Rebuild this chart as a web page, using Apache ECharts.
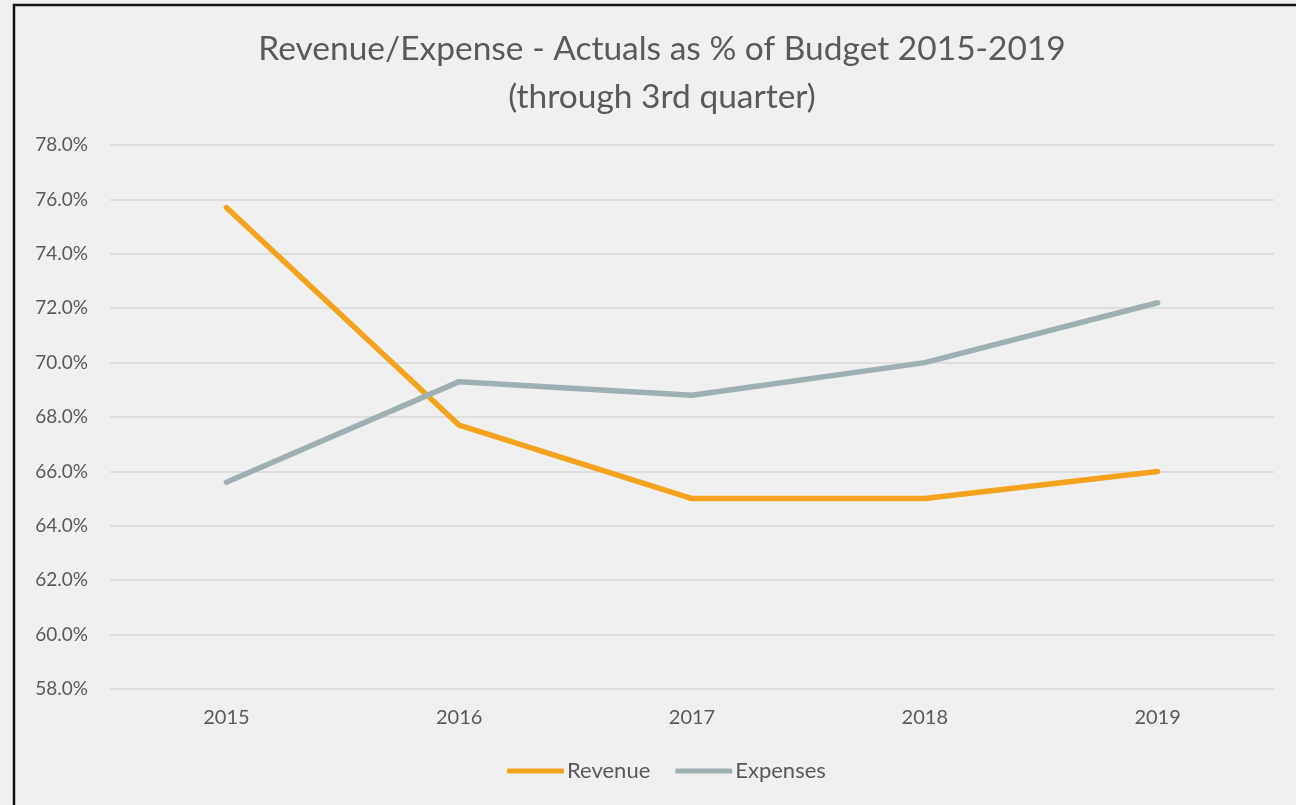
<!DOCTYPE html>
<html>
<head>
<meta charset="utf-8">
<script src="https://cdn.jsdelivr.net/npm/echarts@6/dist/echarts.min.js"></script>
<style>
  html, body { margin: 0; padding: 0; background: #f0f0f0; }
  #chart { width: 1296px; height: 805px; }
</style>
</head>
<body>
<div id="chart"></div>
<script>
// Fiscal years on the category axis
const years = ['2015', '2016', '2017', '2018', '2019'];
// Actuals as a percentage of budget, through the 3rd quarter
const revenue = [75.7, 67.7, 65.0, 65.0, 66.0];
const expenses = [65.6, 69.3, 68.8, 70.0, 72.2];
// Value axis range
const yMin = 58, yMax = 78, yStep = 2;

const textColor = '#595959';
const font = 'Lato, "Open Sans", sans-serif';

const chart = echarts.init(document.getElementById('chart'));
chart.setOption({
  backgroundColor: '#f0f0f0',
  animation: false,
  title: {
    text: 'Revenue/Expense - Actuals as % of Budget 2015-2019\n(through 3rd quarter)',
    left: 657,
    top: 20,
    textAlign: 'center',
    textStyle: {
      color: textColor,
      fontFamily: font,
      fontWeight: 'normal',
      fontSize: 33.5,
      lineHeight: 48
    }
  },
  grid: { left: 110, right: 22, top: 145, bottom: 116, containLabel: false },
  legend: {
    bottom: 18,
    left: 502,
    itemWidth: 57,
    itemHeight: 5,
    itemGap: 25,
    icon: 'roundRect',
    textStyle: { color: textColor, fontFamily: font, fontSize: 22, padding: [0, 0, 0, -2] },
    data: ['Revenue', 'Expenses']
  },
  xAxis: {
    type: 'category',
    data: years,
    boundaryGap: true,
    axisLine: { show: false },
    axisTick: { show: false },
    axisLabel: { color: textColor, fontFamily: font, fontSize: 20, margin: 19 }
  },
  yAxis: {
    type: 'value',
    min: yMin,
    max: yMax,
    interval: yStep,
    axisLine: { show: false },
    axisTick: { show: false },
    splitLine: { lineStyle: { color: '#d9d9d9', width: 1.5 } },
    axisLabel: {
      color: textColor,
      fontFamily: font,
      fontSize: 19,
      margin: 22,
      formatter: v => v.toFixed(1) + '%'
    }
  },
  series: [
    {
      name: 'Revenue',
      type: 'line',
      data: revenue,
      symbol: 'none',
      color: '#f5a31e',
      lineStyle: { width: 5.5, color: '#f5a31e', cap: 'round', join: 'round' }
    },
    {
      name: 'Expenses',
      type: 'line',
      data: expenses,
      symbol: 'none',
      color: '#9fb0b4',
      lineStyle: { width: 5.5, color: '#9fb0b4', cap: 'round', join: 'round' }
    }
  ],
  graphic: [
    {
      type: 'polyline',
      shape: { points: [[14, 805], [14, 5], [1296, 5]] },
      style: { stroke: '#111', lineWidth: 2.5, fill: null }
    }
  ]
});
</script>
</body>
</html>
